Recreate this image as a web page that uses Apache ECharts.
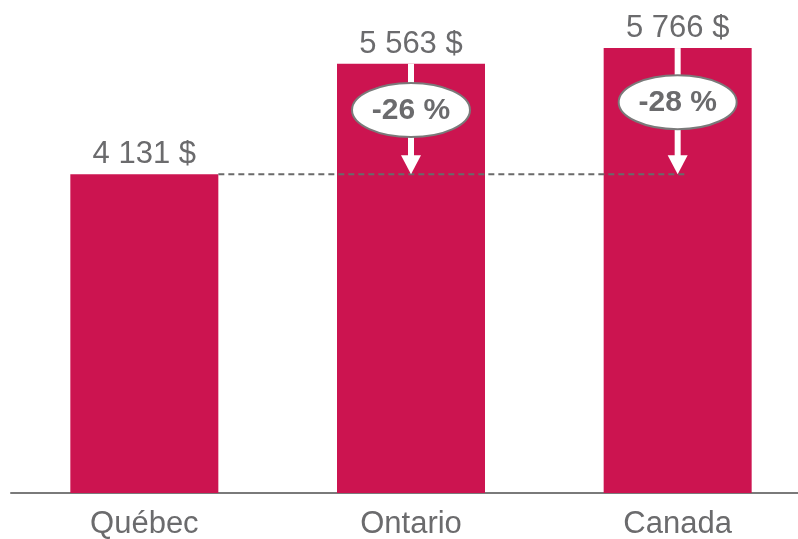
<!DOCTYPE html>
<html>
<head>
<meta charset="utf-8">
<script src="https://cdn.jsdelivr.net/npm/echarts@6/dist/echarts.min.js"></script>
<style>
html, body { margin: 0; padding: 0; background: #fff; }
#chart { width: 798px; height: 539px; }
</style>
</head>
<body>
<div id="chart"></div>
<script>
// données
const categories = ['Québec', 'Ontario', 'Canada'];
const values = [4131, 5563, 5766];
const gapLabels = ['', '-26 %', '-28 %'];

const barColor = '#CC1450';
const textColor = '#6B6B6D';

function fmt(v) {
  return String(v).replace(/\B(?=(\d{3})+(?!\d))/g, ' ') + ' $';
}

const chart = echarts.init(document.getElementById('chart'));

const options = {
  animation: false,
  grid: { left: 11, top: 30, right: -13, bottom: 46, containLabel: false, outerBoundsMode: 'none' },
  xAxis: {
    type: 'category',
    data: categories,
    axisLine: { show: true, lineStyle: { color: '#7a7a7a', width: 2 } },
    axisTick: { show: false },
    axisLabel: {
      color: textColor,
      fontSize: 31,
      fontFamily: 'Liberation Sans, Arial, sans-serif',
      margin: 16
    }
  },
  yAxis: {
    type: 'value',
    min: 0,
    max: 6000,
    show: false,
    splitLine: { show: false }
  },
  series: [{
    type: 'bar',
    data: values,
    barWidth: '55.5%',
    itemStyle: { color: barColor },
    label: {
      show: true,
      position: 'top',
      distance: 4,
      color: textColor,
      fontSize: 31,
      fontFamily: 'Liberation Sans, Arial, sans-serif',
      formatter: (p) => fmt(p.value)
    }
  }]
};
chart.setOption(options);

// annotations : ligne pointillée + flèches + ellipses
const px = (i, v) => chart.convertToPixel({ seriesIndex: 0 }, [i, v]);
const step = px(1, 0)[0] - px(0, 0)[0];
const halfBar = step * 0.555 / 2;
const ref = px(0, values[0]);
const lastX = px(values.length - 1, 0)[0];

const elements = [{
  type: 'line',
  z: 100,
  shape: { x1: ref[0] + halfBar, y1: ref[1], x2: lastX + 8, y2: ref[1] },
  style: { stroke: '#6a6a6a', lineWidth: 2, lineDash: [6, 4] }
}];

for (let i = 1; i < values.length; i++) {
  const top = px(i, values[i]);
  const x = top[0];
  const yRef = ref[1];
  const cy = (top[1] + yRef) / 2 - 9;
  elements.push({
    type: 'line',
    z: 101,
    shape: { x1: x, y1: top[1], x2: x, y2: yRef - 18 },
    style: { stroke: '#fff', lineWidth: 6 }
  });
  elements.push({
    type: 'polygon',
    z: 101,
    shape: { points: [[x - 10, yRef - 19], [x + 10, yRef - 19], [x, yRef]] },
    style: { fill: '#fff' }
  });
  elements.push({
    type: 'ellipse',
    z: 102,
    shape: { cx: x, cy: cy, rx: 59, ry: 27 },
    style: { fill: '#fff', stroke: '#7a7a7a', lineWidth: 2 }
  });
  elements.push({
    type: 'text',
    z: 103,
    x: x,
    y: cy + 1,
    style: {
      text: gapLabels[i],
      fill: textColor,
      font: 'bold 30px "Liberation Sans", Arial, sans-serif',
      align: 'center',
      verticalAlign: 'middle'
    }
  });
}

chart.setOption({ graphic: { elements: elements } });
</script>
</body>
</html>
